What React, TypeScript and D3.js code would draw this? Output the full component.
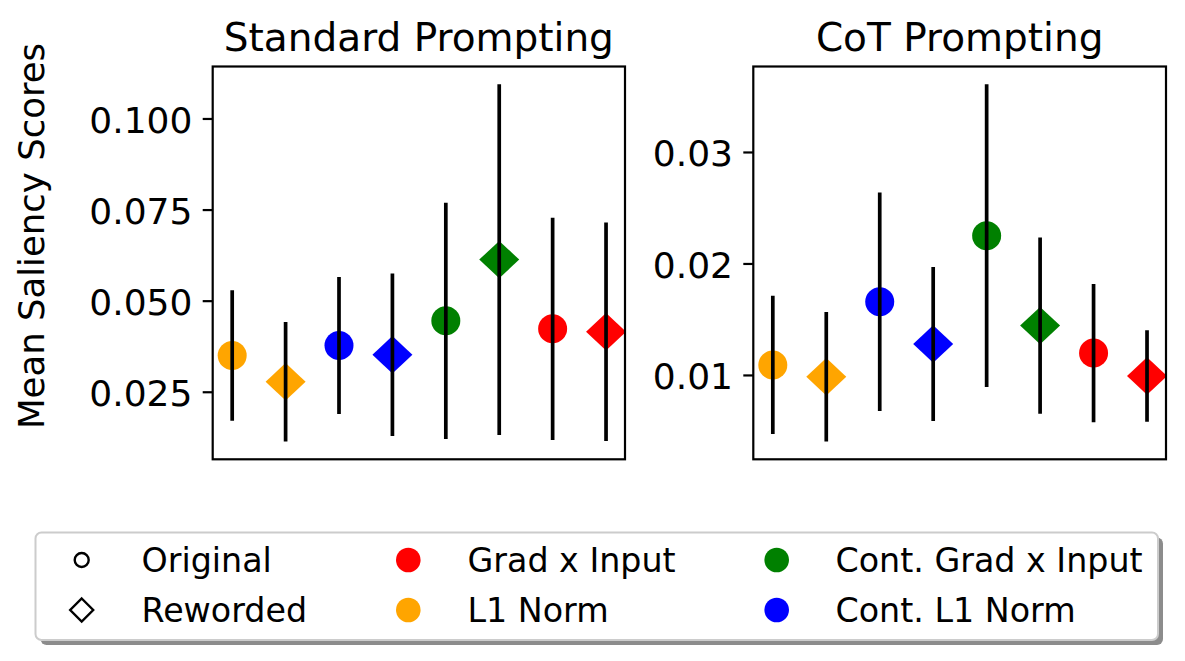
import React from "react";
import * as d3 from "d3";

// ---------- data ----------
const pointMethods = [
  "L1 Norm", "L1 Norm",
  "Cont. L1 Norm", "Cont. L1 Norm",
  "Cont. Grad x Input", "Cont. Grad x Input",
  "Grad x Input", "Grad x Input",
];
const pointVariants = [
  "Original", "Reworded", "Original", "Reworded",
  "Original", "Reworded", "Original", "Reworded",
];
const standardMeans = [0.0351, 0.0279, 0.0378, 0.0353, 0.0446, 0.0614, 0.0424, 0.0416];
const standardErrs = [0.0179, 0.0164, 0.0188, 0.0223, 0.0324, 0.0481, 0.0305, 0.0300];
const cotMeans = [0.01094, 0.00988, 0.0166, 0.01282, 0.02254, 0.01447, 0.01201, 0.00995];
const cotErrs = [0.0062, 0.0058, 0.0098, 0.0069, 0.01357, 0.0079, 0.0062, 0.0041];

const standardTicks = [0.025, 0.05, 0.075, 0.1];
const cotTicks = [0.01, 0.02, 0.03];

const panelTitles = ["Standard Prompting", "CoT Prompting"];
const yLabel = "Mean Saliency Scores";

const methodNames = ["Grad x Input", "L1 Norm", "Cont. Grad x Input", "Cont. L1 Norm"];
const methodColors = ["#ff0000", "#ffa500", "#008000", "#0000ff"];
const variantNames = ["Original", "Reworded"];

// ---------- layout ----------
const W = 1185;
const H = 661;
const FONT = "DejaVu Sans, Liberation Sans, sans-serif";
const TOP = 66.5;
const BOTTOM = 459.3;
const panelsX = [
  [212.7, 625],
  [753.3, 1166],
];
const colorOf = (m: string) => methodColors[methodNames.indexOf(m)];

function Marker({ variant, cx, cy, fill, r, hw, hh, stroke, sw }: any) {
  if (variant === "Original") {
    return <circle cx={cx} cy={cy} r={r} fill={fill} stroke={stroke} strokeWidth={sw} />;
  }
  const p = d3.path();
  p.moveTo(cx, cy - hh);
  p.lineTo(cx + hw, cy);
  p.lineTo(cx, cy + hh);
  p.lineTo(cx - hw, cy);
  p.closePath();
  return <path d={p.toString()} fill={fill} stroke={stroke} strokeWidth={sw} />;
}

function Panel({ idx, means, errs, ticks, fmt }: any) {
  const [x0, x1] = panelsX[idx];
  const lo = d3.min(means.map((m: number, i: number) => m - errs[i])) as number;
  const hi = d3.max(means.map((m: number, i: number) => m + errs[i])) as number;
  const pad = (hi - lo) * 0.05;
  const y = d3.scaleLinear().domain([lo - pad, hi + pad]).range([BOTTOM, TOP]);
  const x = d3.scaleLinear().domain([-0.365, 7.355]).range([x0, x1]);
  const clipId = `clip${idx}`;
  return (
    <g>
      <defs>
        <clipPath id={clipId}>
          <rect x={x0} y={TOP} width={x1 - x0} height={BOTTOM - TOP} />
        </clipPath>
      </defs>
      <g clipPath={`url(#${clipId})`}>
        {means.map((m: number, i: number) => (
          <Marker
            key={"m" + i}
            variant={pointVariants[i]}
            cx={x(i)}
            cy={y(m)}
            fill={colorOf(pointMethods[i])}
            r={14.5}
            hw={20}
            hh={18.7}
            stroke="none"
            sw={0}
          />
        ))}
        {means.map((m: number, i: number) => (
          <line
            key={"e" + i}
            x1={x(i)}
            x2={x(i)}
            y1={y(m - errs[i])}
            y2={y(m + errs[i])}
            stroke="#000"
            strokeWidth={3.7}
          />
        ))}
      </g>
      <rect x={x0} y={TOP} width={x1 - x0} height={BOTTOM - TOP} fill="none" stroke="#000" strokeWidth={2.2} />
      {ticks.map((t: number) => (
        <g key={t}>
          <line x1={x0 - 10} x2={x0} y1={y(t)} y2={y(t)} stroke="#000" strokeWidth={2.2} />
          <text
            x={x0 - 20.3}
            y={y(t) + 13.6}
            textAnchor="end"
            fontFamily={FONT}
            fontSize={36}
            fill="#000"
          >
            {d3.format(fmt)(t)}
          </text>
        </g>
      ))}
      <text
        x={(x0 + x1) / 2}
        y={51}
        textAnchor="middle"
        fontFamily={FONT}
        fontSize={39}
        fill="#000"
      >
        {panelTitles[idx]}
      </text>
    </g>
  );
}

function Legend() {
  const bx = 35.5, by = 532.5, bw = 1122.5, bh = 107.5;
  const rows = [560, 610];
  const cols = [
    { mx: 81.7, tx: 141.5 },
    { mx: 408.3, tx: 467.5 },
    { mx: 776.7, tx: 835.5 },
  ];
  const items: any[] = [];
  variantNames.forEach((v, r) => items.push({ col: 0, row: r, label: v, variant: v, color: "none" }));
  methodNames.forEach((m, i) =>
    items.push({ col: 1 + Math.floor(i / 2), row: i % 2, label: m, variant: "Original", color: methodColors[i] })
  );
  return (
    <g>
      <rect x={bx + 5} y={by + 5} width={bw} height={bh} rx={6} fill="#000" fillOpacity={0.45} />
      <rect x={bx} y={by} width={bw} height={bh} rx={6} fill="#fff" stroke="#cccccc" strokeWidth={2} />
      {items.map((it, k) => {
        const c = cols[it.col];
        const cy = rows[it.row];
        const open = it.color === "none";
        return (
          <g key={k}>
            <Marker
              variant={it.variant}
              cx={c.mx}
              cy={cy}
              fill={open ? "none" : it.color}
              r={open ? 7 : 12.3}
              hw={11.5}
              hh={11.5}
              stroke={open ? "#000" : "none"}
              sw={open ? 2.4 : 0}
            />
            <text x={c.tx} y={cy + 12} fontFamily={FONT} fontSize={33.3} fill="#000">
              {it.label}
            </text>
          </g>
        );
      })}
    </g>
  );
}

export default function App() {
  return (
    <svg
      width={W}
      height={H}
      viewBox={`0 0 ${W} ${H}`}
      style={{ position: "absolute", left: 0, top: 0, background: "#fff" }}
    >
      <rect x={0} y={0} width={W} height={H} fill="#fff" />
      <Panel idx={0} means={standardMeans} errs={standardErrs} ticks={standardTicks} fmt=".3f" />
      <Panel idx={1} means={cotMeans} errs={cotErrs} ticks={cotTicks} fmt=".2f" />
      <text
        transform={`translate(44, 236) rotate(-90)`}
        textAnchor="middle"
        fontFamily={FONT}
        fontSize={35.5}
        fill="#000"
      >
        {yLabel}
      </text>
      <Legend />
    </svg>
  );
}
